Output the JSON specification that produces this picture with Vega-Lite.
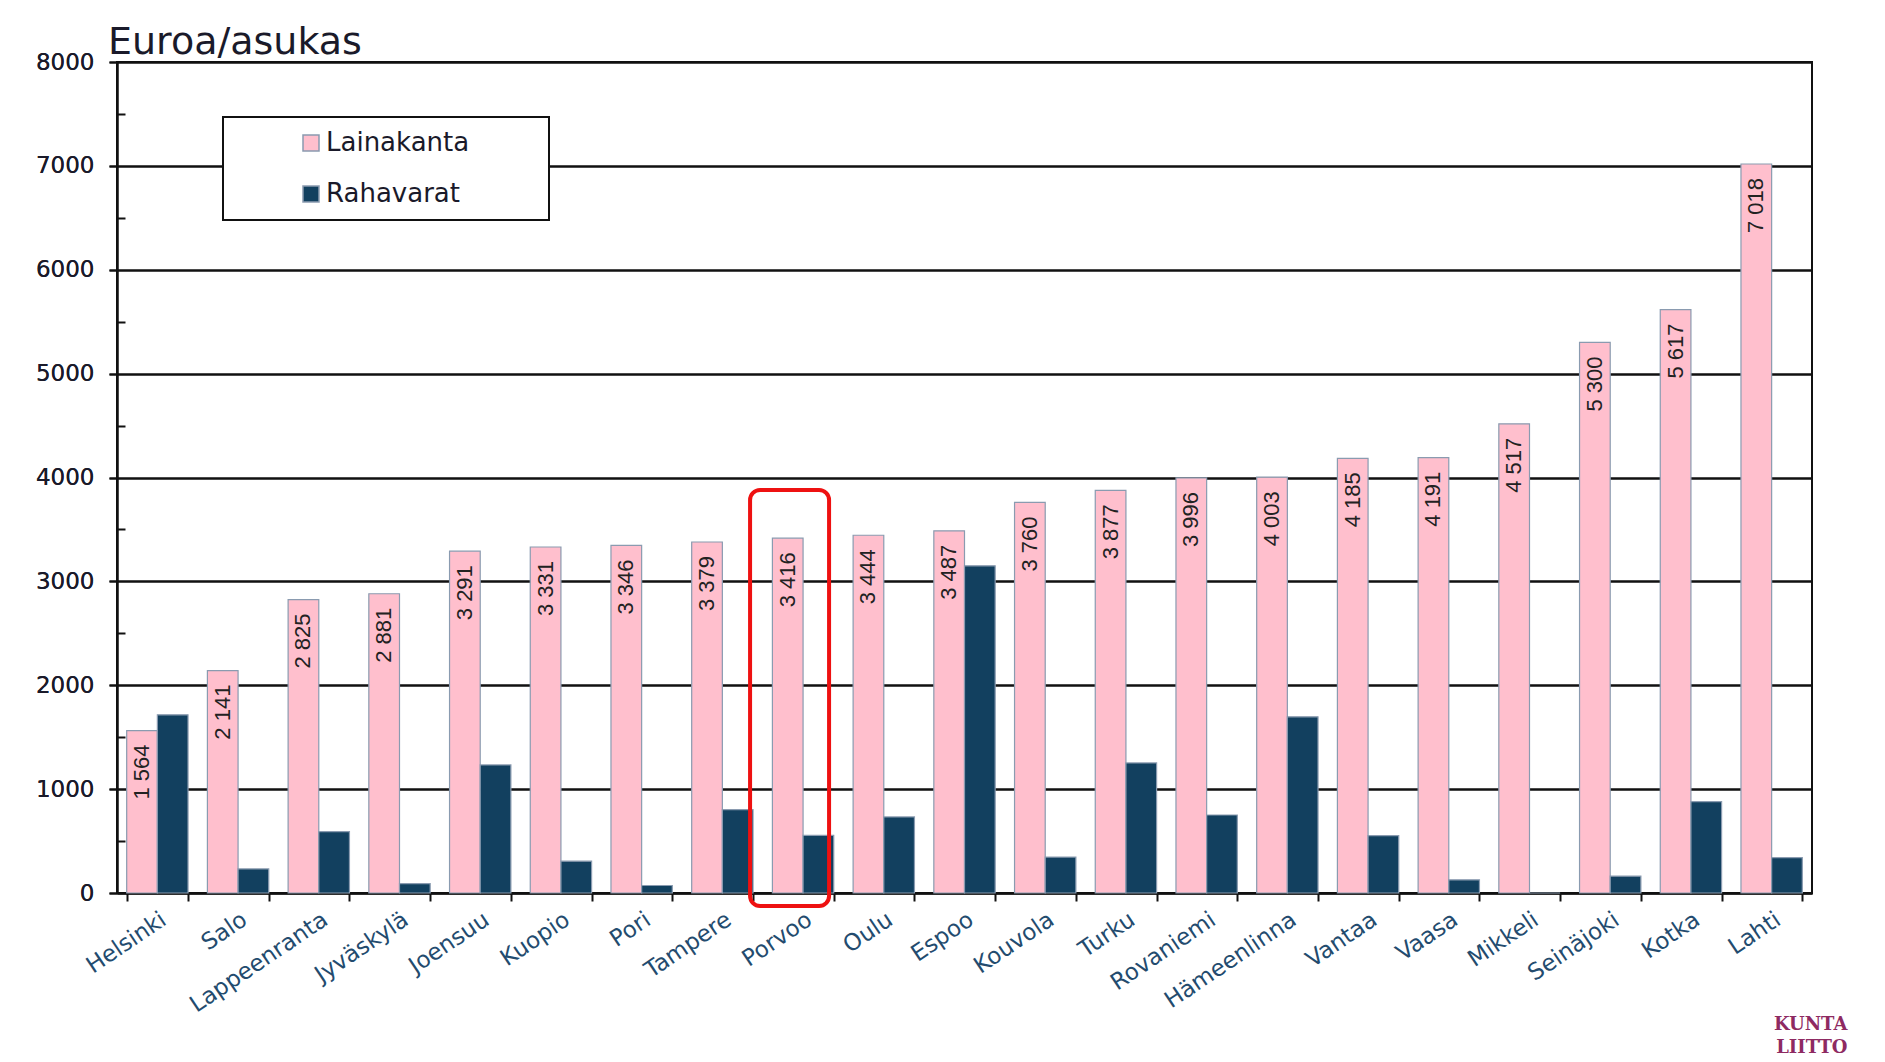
{
  "$schema": "https://vega.github.io/schema/vega-lite/v6.json",
  "width": 1695,
  "height": 831,
  "autosize": {"type": "none"},
  "padding": {"left": 117, "top": 62, "right": 73, "bottom": 169},
  "background": "white",
  "config": {
    "view": {"stroke": "#111", "strokeWidth": 2},
    "legend": {"strokeWidth": 2},
    "locale": {"number": {"decimal": ",", "thousands": " ", "grouping": [3], "currency": ["", " €"]}}
  },
  "title": {"text": "Euroa/asukas", "anchor": "start", "frame": "group", "font": "DejaVu Sans", "fontSize": 38, "fontWeight": "normal", "color": "#1a1a2a", "baseline": "alphabetic", "offset": 0, "dx": -9, "dy": 41},
  "data": {"values": [
    {"city": "Helsinki", "series": "Lainakanta", "value": 1564},
    {"city": "Helsinki", "series": "Rahavarat", "value": 1715},
    {"city": "Salo", "series": "Lainakanta", "value": 2141},
    {"city": "Salo", "series": "Rahavarat", "value": 232},
    {"city": "Lappeenranta", "series": "Lainakanta", "value": 2825},
    {"city": "Lappeenranta", "series": "Rahavarat", "value": 590},
    {"city": "Jyväskylä", "series": "Lainakanta", "value": 2881},
    {"city": "Jyväskylä", "series": "Rahavarat", "value": 91},
    {"city": "Joensuu", "series": "Lainakanta", "value": 3291},
    {"city": "Joensuu", "series": "Rahavarat", "value": 1233},
    {"city": "Kuopio", "series": "Lainakanta", "value": 3331},
    {"city": "Kuopio", "series": "Rahavarat", "value": 306},
    {"city": "Pori", "series": "Lainakanta", "value": 3346},
    {"city": "Pori", "series": "Rahavarat", "value": 72},
    {"city": "Tampere", "series": "Lainakanta", "value": 3379},
    {"city": "Tampere", "series": "Rahavarat", "value": 803},
    {"city": "Porvoo", "series": "Lainakanta", "value": 3416},
    {"city": "Porvoo", "series": "Rahavarat", "value": 555},
    {"city": "Oulu", "series": "Lainakanta", "value": 3444},
    {"city": "Oulu", "series": "Rahavarat", "value": 732},
    {"city": "Espoo", "series": "Lainakanta", "value": 3487},
    {"city": "Espoo", "series": "Rahavarat", "value": 3150},
    {"city": "Kouvola", "series": "Lainakanta", "value": 3760},
    {"city": "Kouvola", "series": "Rahavarat", "value": 346},
    {"city": "Turku", "series": "Lainakanta", "value": 3877},
    {"city": "Turku", "series": "Rahavarat", "value": 1252},
    {"city": "Rovaniemi", "series": "Lainakanta", "value": 3996},
    {"city": "Rovaniemi", "series": "Rahavarat", "value": 751},
    {"city": "Hämeenlinna", "series": "Lainakanta", "value": 4003},
    {"city": "Hämeenlinna", "series": "Rahavarat", "value": 1696},
    {"city": "Vantaa", "series": "Lainakanta", "value": 4185},
    {"city": "Vantaa", "series": "Rahavarat", "value": 552},
    {"city": "Vaasa", "series": "Lainakanta", "value": 4191},
    {"city": "Vaasa", "series": "Rahavarat", "value": 127},
    {"city": "Mikkeli", "series": "Lainakanta", "value": 4517},
    {"city": "Mikkeli", "series": "Rahavarat", "value": 0},
    {"city": "Seinäjoki", "series": "Lainakanta", "value": 5300},
    {"city": "Seinäjoki", "series": "Rahavarat", "value": 162},
    {"city": "Kotka", "series": "Lainakanta", "value": 5617},
    {"city": "Kotka", "series": "Rahavarat", "value": 880},
    {"city": "Lahti", "series": "Lainakanta", "value": 7018},
    {"city": "Lahti", "series": "Rahavarat", "value": 340}
  ]},
  "encoding": {
    "x": {
      "field": "city", "type": "nominal", "sort": null,
      "scale": {"paddingInner": 0.24, "paddingOuter": 0.12},
      "axis": {
        "title": ["KUNTA", "LIITTO"],
        "titleFont": "DejaVu Serif", "titleFontWeight": "bold", "titleFontSize": 18,
        "titleColor": "#8e2a62", "titleLineHeight": 23, "titleAlign": "right", "titleBaseline": "top",
        "titleX": 1730, "titleY": 122,
        "labelAngle": -34, "labelFont": "DejaVu Sans", "labelFontSize": 23, "labelColor": "#234b6e",
        "labelPadding": 7, "tickBand": "extent", "tickSize": 8, "tickColor": "#111", "tickWidth": 2,
        "domainColor": "#111", "domainWidth": 2
      }
    },
    "y": {
      "field": "value", "type": "quantitative",
      "scale": {"domain": [0, 8000], "nice": false},
      "axis": {
        "orient": "left", "values": [0, 1000, 2000, 3000, 4000, 5000, 6000, 7000, 8000], "format": "d",
        "grid": true, "gridColor": "#111", "gridWidth": 2,
        "domainColor": "#111", "domainWidth": 2, "tickColor": "#111", "tickWidth": 2, "tickSize": 8,
        "labelFont": "DejaVu Sans", "labelFontSize": 23, "labelColor": "#1a1a2a", "labelPadding": 15,
        "title": null
      }
    }
  },
  "layer": [
    {
      "mark": {"type": "bar", "stroke": "#8a9bb0", "strokeWidth": 1.2},
      "encoding": {
        "xOffset": {"field": "series", "type": "nominal", "scale": {"domain": ["Lainakanta", "Rahavarat"], "paddingInner": 0, "paddingOuter": 0}},
        "color": {
          "field": "series", "type": "nominal",
          "scale": {"domain": ["Lainakanta", "Rahavarat"], "range": ["#ffbfcd", "#12405f"]},
          "legend": {
            "orient": "none", "legendX": 106, "legendY": 55, "title": null, "direction": "vertical",
            "fillColor": "white", "strokeColor": "#111", "padding": 13,
            "symbolOffset": 62, "symbolType": "square", "symbolSize": 256,
            "symbolStrokeColor": "#8a9bb0", "symbolStrokeWidth": 1.5,
            "labelFont": "DejaVu Sans", "labelFontSize": 26, "labelColor": "#1a1a2a",
            "labelOffset": 2, "rowPadding": 25, "labelLimit": 400,
            "labelExpr": "datum.label + '\u00a0\u00a0\u00a0\u00a0\u00a0\u00a0\u00a0\u00a0\u200b'"
          }
        }
      }
    },
    {
      "transform": [{"filter": "datum.series === 'Lainakanta'"}],
      "mark": {"type": "text", "angle": 270, "align": "right", "baseline": "middle", "dx": -14, "font": "Liberation Sans", "fontSize": 22, "color": "#222"},
      "encoding": {
        "xOffset": {"field": "series", "type": "nominal"},
        "text": {"field": "value", "type": "quantitative", "format": ","}
      }
    },
    {
      "transform": [{"filter": "datum.series === 'Lainakanta' && datum.city === 'Porvoo'"}],
      "mark": {"type": "bar", "filled": false, "color": "#ee1111", "strokeWidth": 4, "cornerRadius": 10, "width": 79, "xOffset": -13.5},
      "encoding": {
        "y": {
          "datum": 3880, "type": "quantitative",
          "axis": {
            "orient": "right", "offset": -1695, "values": [500, 1500, 2500, 3500, 4500, 5500, 6500, 7500],
            "labels": false, "domain": false, "grid": false, "tickSize": 8, "tickColor": "#111", "tickWidth": 2, "title": null
          }
        },
        "y2": {"datum": -125}
      }
    }
  ],
  "resolve": {"axis": {"y": "independent"}}
}
